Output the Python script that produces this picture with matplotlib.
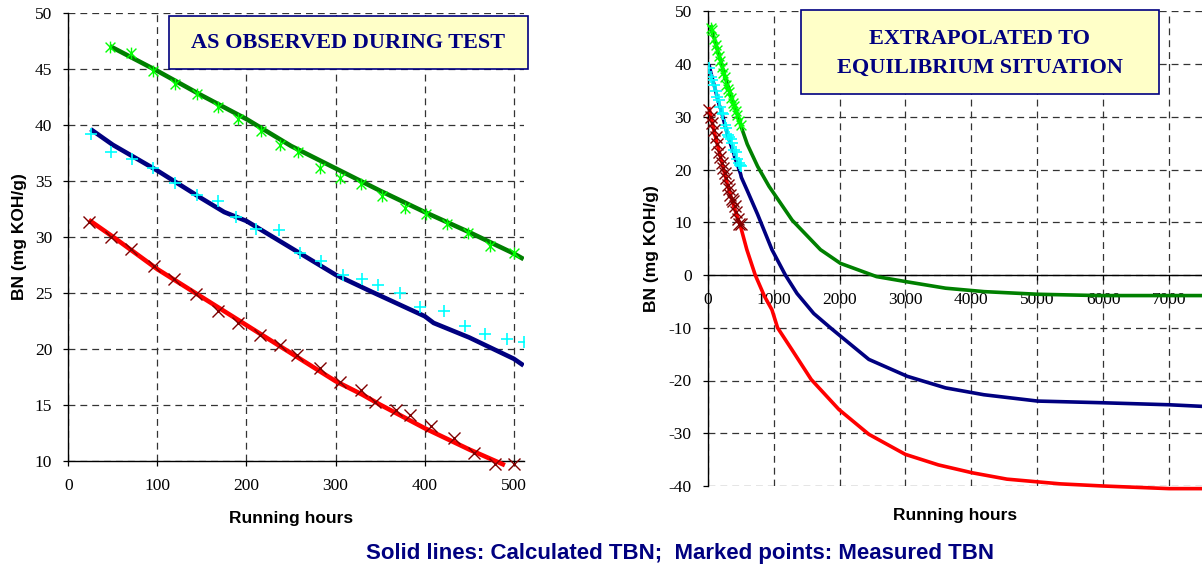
import numpy as np
import matplotlib.pyplot as plt
from matplotlib.path import Path
from matplotlib.patches import Rectangle

plt.rcParams['axes.unicode_minus'] = False

# ---- measured TBN during the test (marked points) ----
green_hours = [47, 70, 95, 120, 144, 168, 191, 216, 238, 258, 282, 305, 329, 352, 378, 402, 425, 449, 473, 500]
green_meas = [46.9, 46.4, 44.8, 43.6, 42.7, 41.6, 40.5, 39.4, 38.2, 37.6, 36.1, 35.2, 34.7, 33.6, 32.6, 32.0, 31.1, 30.3, 29.2, 28.5]

cyan_hours = [25, 48, 72, 95, 120, 144, 168, 188, 211, 236, 260, 284, 308, 330, 348, 372, 395, 422, 445, 468, 492, 511]
cyan_meas = [39.2, 37.6, 36.9, 36.1, 34.8, 33.7, 33.2, 31.8, 30.7, 30.6, 28.5, 27.8, 26.6, 26.2, 25.7, 25.0, 23.7, 23.4, 22.0, 21.3, 20.9, 20.6]

red_hours = [23, 48, 70, 96, 119, 143, 168, 191, 215, 238, 257, 282, 305, 329, 344, 368, 384, 407, 433, 455, 479, 500]
red_meas = [31.3, 30.0, 28.9, 27.4, 26.2, 24.85, 23.4, 22.3, 21.2, 20.3, 19.4, 18.3, 17.0, 16.3, 15.2, 14.5, 14.1, 13.1, 12.0, 10.7, 9.7, 9.7]

# ---- calculated TBN, test period ----
green_calc_h = [47, 100, 150, 200, 250, 300, 350, 400, 450, 500, 511]
green_calc = [47.0, 44.8, 42.6, 40.5, 38.1, 36.1, 34.1, 32.2, 30.4, 28.5, 28.0]

blue_calc_h = [25, 50, 100, 150, 175, 200, 250, 300, 340, 400, 410, 450, 500, 511]
blue_calc = [39.6, 38.2, 35.9, 33.4, 32.2, 31.4, 29.0, 26.6, 25.1, 22.9, 22.3, 21.0, 19.1, 18.5]

red_calc_h = [23, 50, 100, 150, 200, 250, 300, 330, 350, 400, 450, 490]
red_calc = [31.5, 30.0, 27.1, 24.6, 22.1, 19.6, 17.1, 15.9, 15.0, 12.9, 11.0, 9.6]

# ---- calculated TBN, extrapolated to equilibrium ----
green_ext_h = [600, 757, 931, 1281, 1711, 2015, 2561, 3027, 3609, 4191, 5006, 5937, 7500]
green_ext = [24.8, 20.6, 16.8, 10.4, 4.8, 2.2, -0.3, -1.3, -2.5, -3.15, -3.65, -3.9, -3.9]

blue_ext_h = [600, 757, 975, 1178, 1355, 1609, 1880, 2445, 3027, 3609, 4191, 5006, 5937, 7000, 7500]
blue_ext = [16.0, 11.5, 4.8, 0.0, -3.5, -7.3, -10.2, -16.0, -19.2, -21.4, -22.7, -23.9, -24.2, -24.6, -24.9]

red_ext_h = [594, 721, 860, 975, 1060, 1280, 1570, 1991, 2445, 2998, 3500, 4016, 4540, 5355, 6000, 7000, 7500]
red_ext = [4.8, 0.0, -4.0, -6.6, -10.0, -14.2, -19.8, -25.5, -30.2, -34.0, -36.0, -37.5, -38.7, -39.6, -40.0, -40.5, -40.5]

navy = '#000080'
serif = 'Liberation Serif'
sans = 'Liberation Sans'

# star marker like the spreadsheet one (x plus a vertical bar)
star = Path([(-1, -1), (1, 1), (-1, 1), (1, -1), (0, -1.2), (0, 1.2)],
            [Path.MOVETO, Path.LINETO, Path.MOVETO, Path.LINETO, Path.MOVETO, Path.LINETO])

W, H = 1202, 574
fig = plt.figure(figsize=(W / 100, H / 100), dpi=100)
ax1 = fig.add_axes([68.3 / W, 1 - 460.7 / H, (523.6 - 68.3) / W, 448 / H])
ax2 = fig.add_axes([707.7 / W, 1 - 486 / H, (1202 - 707.7) / W, 474.75 / H])


def style(ax):
    for s in ['top', 'right']:
        ax.spines[s].set_visible(False)
    for s in ['left', 'bottom']:
        ax.spines[s].set_linewidth(1.0)
    ax.grid(True, linestyle=(0, (5.5, 4)), linewidth=0.9, color='#333333')
    ax.set_axisbelow(True)
    ax.tick_params(direction='out', length=3.5, width=0.9, labelsize=12.5)
    ax.tick_params(axis='x', pad=9)
    ax.tick_params(axis='y', pad=8)
    for lab in ax.get_xticklabels() + ax.get_yticklabels():
        lab.set_fontfamily(serif)


def measured(ax):
    ax.plot(green_hours, green_meas, ls='none', marker=star, ms=8.5, mew=1.0,
            mec='#00FF00', mfc='none', clip_on=False, zorder=5)
    ax.plot(cyan_hours, cyan_meas, ls='none', marker='+', ms=9, mew=1.2,
            mec='#00FFFF', zorder=5)
    ax.plot(red_hours, red_meas, ls='none', marker='x', ms=8, mew=1.0,
            mec='#800000', clip_on=False, zorder=5)


# ---------------- left: as observed ----------------
ax1.plot(green_calc_h, green_calc, color='#008000', lw=3.3, solid_capstyle='butt', zorder=3)
ax1.plot(blue_calc_h, blue_calc, color=navy, lw=3.3, solid_capstyle='butt', zorder=3)
ax1.plot(red_calc_h, red_calc, color='#FF0000', lw=3.3, solid_capstyle='butt', clip_on=False, zorder=3)
measured(ax1)
ax1.set_xlim(0, 511)
ax1.set_ylim(10, 50)
ax1.set_xticks(np.arange(0, 501, 100))
ax1.set_yticks(np.arange(10, 51, 5))
style(ax1)
ax1.set_ylabel('BN (mg KOH/g)', fontfamily=sans, fontweight='bold', fontsize=12.5, va='center')
ax1.yaxis.set_label_coords(-0.108, 0.5)
ax1.set_xlabel('Running hours', fontfamily=sans, fontweight='bold', fontsize=12.5, va='center')
ax1.xaxis.set_label_coords(0.49, -0.128)

# ---------------- right: extrapolated ----------------
ax2.plot(green_calc_h + green_ext_h, green_calc + green_ext, color='#008000', lw=2.6, zorder=3)
ax2.plot(blue_calc_h + blue_ext_h, blue_calc + blue_ext, color=navy, lw=2.6, zorder=3)
ax2.plot(red_calc_h + red_ext_h, red_calc + red_ext, color='#FF0000', lw=2.6, clip_on=False, zorder=3)
measured(ax2)
ax2.set_xlim(0, 7500)
ax2.set_ylim(-40, 50)
ax2.set_xticks(np.arange(0, 7001, 1000))
ax2.set_yticks(np.arange(-40, 51, 10))
ax2.spines['bottom'].set_position(('data', 0))
style(ax2)
ax2.set_ylabel('BN (mg KOH/g)', fontfamily=sans, fontweight='bold', fontsize=12.5, va='center')
ax2.yaxis.set_label_coords(-0.113, 0.5)
ax2.set_xlabel('Running hours', fontfamily=sans, fontweight='bold', fontsize=12.5, va='center')
ax2.xaxis.set_label_coords(0.5, -0.063)

# ---------------- title boxes ----------------
fig.add_artist(Rectangle((169 / W, 1 - 69 / H), (527.7 - 169) / W, (69 - 15.7) / H,
                         transform=fig.transFigure, facecolor='#FFFFC8', edgecolor=navy, lw=1.2, zorder=6))
fig.text((169 + 527.7) / 2 / W, 1 - 43 / H, 'AS OBSERVED DURING TEST', ha='center', va='center',
         fontfamily=serif, fontweight='bold', fontsize=16, color=navy, zorder=7)

fig.add_artist(Rectangle((800.6 / W, 1 - 94 / H), (1158.7 - 800.6) / W, (94 - 10) / H,
                         transform=fig.transFigure, facecolor='#FFFFC8', edgecolor=navy, lw=1.2, zorder=6))
fig.text((800.6 + 1158.7) / 2 / W, 1 - 53 / H, 'EXTRAPOLATED TO\nEQUILIBRIUM SITUATION', ha='center', va='center',
         fontfamily=serif, fontweight='bold', fontsize=16, color=navy, linespacing=1.6, zorder=7)

fig.text(680 / W, 1 - 553 / H, 'Solid lines: Calculated TBN;  Marked points: Measured TBN',
         ha='center', va='center', fontfamily=sans, fontweight='bold', fontsize=16, color=navy)

fig.savefig('out.png', dpi=100)
